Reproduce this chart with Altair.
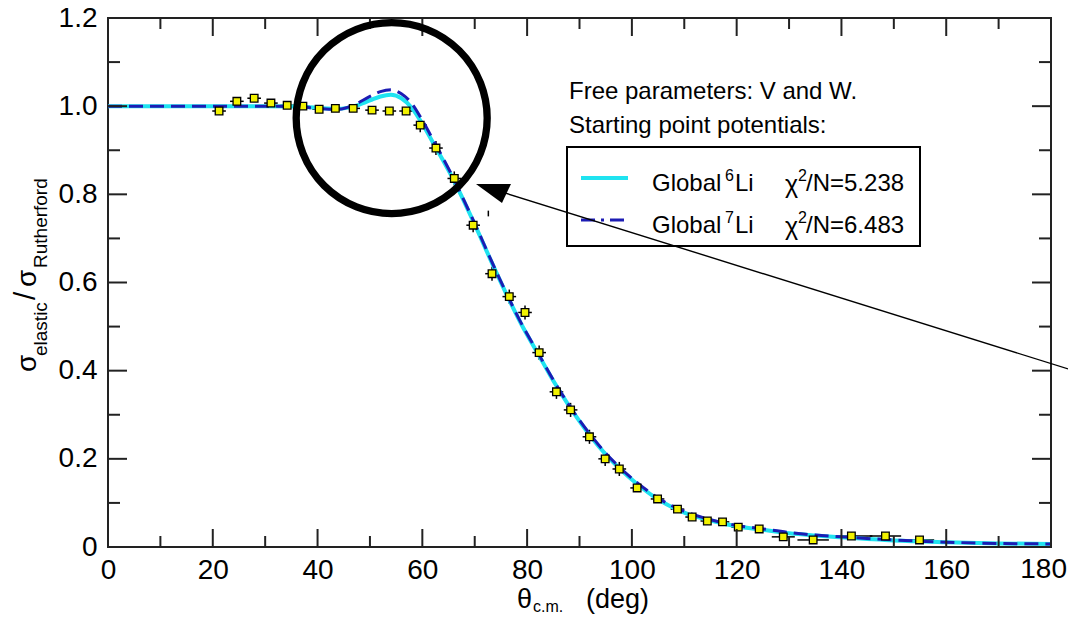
import altair as alt
import pandas as pd

# ---------------- data ----------------
theta_exp = [21.2, 24.6, 27.9, 31.1, 34.2, 37.2, 40.3, 43.4, 46.8, 50.4,
             53.7, 56.9, 59.6, 62.6, 66.1, 69.7, 73.3, 76.6, 79.6, 82.3,
             85.6, 88.3, 91.9, 94.9, 97.6, 101.0, 104.9, 108.7, 111.5, 114.4,
             117.3, 120.3, 124.3, 128.9, 134.6, 141.9, 148.4, 154.9]
sigma_exp = [0.989, 1.011, 1.018, 1.007, 1.002, 1.000, 0.993, 0.995, 0.995, 0.991,
             0.989, 0.989, 0.957, 0.905, 0.836, 0.730, 0.620, 0.568, 0.532, 0.441,
             0.352, 0.311, 0.250, 0.200, 0.177, 0.134, 0.109, 0.086, 0.068, 0.059,
             0.057, 0.045, 0.041, 0.023, 0.016, 0.025, 0.025, 0.016]
dtheta_exp = [1.3] * 33 + [2.2, 3.0, 4.0, 3.0, 2.8]
dsigma_exp = [0.008] * 12 + [0.016] * 13 + [0.008] * 13

theta_fit = [0, 10, 20, 30, 36, 40, 44, 47, 50, 52, 54, 56, 58, 60, 62, 64, 66, 68, 70, 73,
             76, 79, 82, 85, 88, 92, 95, 98, 101, 105, 110, 115, 120, 125, 130, 135, 140,
             150, 160, 170, 180]
sigma_li6 = [1.000, 1.000, 1.000, 1.000, 0.999, 0.996, 0.994, 1.000, 1.013, 1.022, 1.026,
             1.018, 0.996, 0.960, 0.918, 0.876, 0.832, 0.783, 0.732, 0.652, 0.575, 0.503,
             0.440, 0.377, 0.320, 0.253, 0.210, 0.174, 0.143, 0.108, 0.078, 0.060, 0.047,
             0.039, 0.031, 0.026, 0.022, 0.015, 0.011, 0.008, 0.007]
sigma_li7 = [1.000, 1.000, 1.000, 1.000, 0.999, 0.995, 0.993, 1.003, 1.022, 1.033, 1.037,
             1.028, 1.006, 0.968, 0.925, 0.881, 0.835, 0.785, 0.734, 0.654, 0.577, 0.505,
             0.442, 0.379, 0.322, 0.256, 0.213, 0.177, 0.146, 0.111, 0.081, 0.062, 0.049,
             0.041, 0.033, 0.027, 0.023, 0.016, 0.011, 0.008, 0.007]

x_major = [0, 20, 40, 60, 80, 100, 120, 140, 160, 180]
x_minor = [10, 30, 50, 70, 90, 110, 130, 150, 170]
y_major = [0, 0.2, 0.4, 0.6, 0.8, 1.0, 1.2]
y_minor = [0.1, 0.3, 0.5, 0.7, 0.9, 1.1]
x_last_label = "180"

# annotation anchors (data coordinates)
circle_theta = [54.15]
circle_sigma = [0.973]
arrow_theta = [73.9, 186.5]
arrow_sigma = [0.810, 0.392]
arrowhead_theta = [70.24]
arrowhead_sigma = [0.8235]
stray_theta = [72.6]
stray_lo = [0.750]
stray_hi = [0.763]

legend_text1 = "Free parameters: V and W."
legend_text2 = "Starting point potentials:"
legend_isotopes = ["6", "7"]
legend_chi = ["/N=5.238", "/N=6.483"]

# ---------------- style ----------------
W, H = 943, 529
PAD_R = 17
LABEL_PAD = 9
FONT = "Liberation Sans"
AX = "#222222"
CYAN = "#1fe3f0"
BLUE = "#1c1cb4"
YELLOW = "#f2f200"

xs = alt.Scale(domain=[0, 180], nice=False, zero=False)
ys = alt.Scale(domain=[0, 1.2], nice=False, zero=False)
xaxis = alt.Axis(values=x_major, title=None, ticks=False, domain=False, grid=False,
                 labelPadding=LABEL_PAD, labelFontSize=28, labelFont=FONT, labelColor="black",
                 labelFlush=False, labelOverlap=False,
                 labelExpr="datum.value == 180 ? '' : datum.label")
yaxis = alt.Axis(values=y_major, title=None, ticks=False, domain=False, grid=False,
                 labelPadding=11, labelFontSize=28, labelFont=FONT, labelColor="black",
                 labelFlush=False, labelOverlap=False,
                 labelExpr="datum.value == 0 ? '0' : format(datum.value, '.1f')")


def X(f):
    return alt.X(f, type="quantitative", scale=xs, axis=xaxis)


def Y(f):
    return alt.Y(f, type="quantitative", scale=ys, axis=yaxis)


def txt(s, x, y, size, angle=0, align="left", baseline="alphabetic"):
    return alt.Chart(pd.DataFrame({"t": [s]})).mark_text(
        align=align, baseline=baseline, fontSize=size, font=FONT, angle=angle,
        color="black").encode(x=alt.value(x), y=alt.value(y), text="t:N")


exp_df = pd.DataFrame({"theta": theta_exp, "sigma": sigma_exp,
                       "dth": dtheta_exp, "dsg": dsigma_exp})
exp = alt.Chart(exp_df).transform_calculate(
    tlo="datum.theta - datum.dth", thi="datum.theta + datum.dth",
    slo="datum.sigma - datum.dsg", shi="datum.sigma + datum.dsg")

xerr = exp.mark_rule(color="black", strokeWidth=1.5, clip=True).encode(
    x=X("tlo"), x2=alt.X2("thi"), y=Y("sigma"))
yerr = exp.mark_rule(color="black", strokeWidth=1.5, clip=True).encode(
    x=X("theta"), y=Y("slo"), y2=alt.Y2("shi"))
pts = exp.mark_point(shape="square", size=58, filled=True, fill=YELLOW,
                     stroke="black", strokeWidth=1.3, opacity=1, clip=True).encode(
    x=X("theta"), y=Y("sigma"))

fit_df = pd.DataFrame({"theta": theta_fit, "li6": sigma_li6, "li7": sigma_li7})
fit6 = alt.Chart(fit_df).mark_line(color=CYAN, strokeWidth=4, interpolate="monotone",
                                   clip=True).encode(x=X("theta"), y=Y("li6"))
fit7 = alt.Chart(fit_df).mark_line(color=BLUE, strokeWidth=3, strokeDash=[14, 7],
                                   interpolate="monotone", clip=True).encode(
    x=X("theta"), y=Y("li7"))

circle = alt.Chart(pd.DataFrame({"theta": circle_theta, "sigma": circle_sigma})).mark_point(
    shape="circle", size=36481, filled=False, stroke="black", strokeWidth=7.3,
    opacity=1, clip=False).encode(x=X("theta"), y=Y("sigma"))
arrow = alt.Chart(pd.DataFrame({"theta": arrow_theta, "sigma": arrow_sigma})).mark_line(
    color="black", strokeWidth=1.4, clip=False).encode(x=X("theta"), y=Y("sigma"))
head = alt.Chart(pd.DataFrame({"theta": arrowhead_theta, "sigma": arrowhead_sigma})).mark_point(
    shape="M0,0 L1,0 L0.743,0.543 Z", size=4900, filled=True, fill="black",
    strokeWidth=0, opacity=1, clip=False).encode(x=X("theta"), y=Y("sigma"))
stray = alt.Chart(pd.DataFrame({"theta": stray_theta, "lo": stray_lo, "hi": stray_hi})).mark_rule(
    color="black", strokeWidth=1.5).encode(x=X("theta"), y=Y("lo"), y2=alt.Y2("hi"))


# ---------------- ticks (inward, mirrored) ----------------
def xticks(vals, length):
    d = pd.DataFrame({"v": vals})
    b = alt.Chart(d).mark_rule(color=AX, strokeWidth=2).encode(
        x=X("v"), y=alt.value(H), y2=alt.value(H - length))
    t = alt.Chart(d).mark_rule(color=AX, strokeWidth=2).encode(
        x=X("v"), y=alt.value(0), y2=alt.value(length))
    return [b, t]


def yticks(vals, length):
    d = pd.DataFrame({"v": vals})
    l = alt.Chart(d).mark_rule(color=AX, strokeWidth=2).encode(
        y=Y("v"), x=alt.value(0), x2=alt.value(length))
    r = alt.Chart(d).mark_rule(color=AX, strokeWidth=2).encode(
        y=Y("v"), x=alt.value(W), x2=alt.value(W - length))
    return [l, r]


ticks = xticks(x_major, 18) + xticks(x_minor, 11) + yticks(y_major, 19) + yticks(y_minor, 12)

# ---------------- legend ----------------
box = alt.Chart(pd.DataFrame({"a": [0]})).mark_rect(
    fill="white", stroke="black", strokeWidth=2).encode(
    x=alt.value(459), x2=alt.value(812), y=alt.value(129), y2=alt.value(228))
leg_l1 = alt.Chart(pd.DataFrame({"a": [0]})).mark_rule(color=CYAN, strokeWidth=4).encode(
    x=alt.value(473), x2=alt.value(520), y=alt.value(160))
leg_l2 = alt.Chart(pd.DataFrame({"a": [0]})).mark_rule(
    color=BLUE, strokeWidth=3, strokeDash=[14, 6, 3, 6]).encode(
    x=alt.value(473), x2=alt.value(520), y=alt.value(202))

texts = [txt(legend_text1, 461, 81, 24), txt(legend_text2, 461, 115, 24)]
for i, base in enumerate([173, 215]):
    texts += [
        txt("Global", 544, base, 24),
        txt(legend_isotopes[i], 617, base - 10, 16),
        txt("Li", 627, base, 24),
        txt("\u03c7", 677, base + 2, 25),
        txt("2", 690, base - 10, 16),
        txt(legend_chi[i], 698, base, 24),
    ]

texts += [
    # last x tick label, kept inside the page
    txt(x_last_label, W + PAD_R - 1, H + LABEL_PAD, 28, align="right", baseline="top"),
    # x title
    txt("\u03b8", 409, 590, 27),
    txt("c.m.", 425, 594, 16),
    txt("(deg)", 478, 590, 27),
    # y title (rotated)
    txt("\u03c3", -72, 354, 28, angle=270),
    txt("elastic", -61, 338, 19, angle=270),
    txt("/", -73, 282, 30, angle=270),
    txt("\u03c3", -72, 269, 28, angle=270),
    txt("Rutherford", -61, 250, 19, angle=270),
]

layers = [xerr, yerr, stray, fit6, fit7, pts] + ticks + [circle, box, leg_l1, leg_l2, arrow, head] + texts

chart = alt.layer(*layers).properties(
    width=W, height=H,
    autosize=alt.AutoSizeParams(type="none"),
    padding={"left": 100, "top": 10, "right": PAD_R, "bottom": 68},
    background="white",
).configure_view(stroke=AX, strokeWidth=2)

chart.save("out.html", embed_options={"renderer": "svg", "actions": False})
